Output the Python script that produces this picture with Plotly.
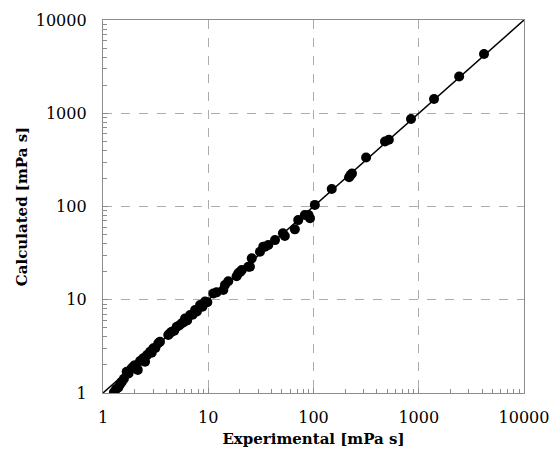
import plotly.graph_objects as go

# Experimental vs calculated viscosity [mPa s]
experimental = [1.27, 1.33, 1.40, 1.46, 1.51, 1.58, 1.68, 1.75, 1.87, 1.95, 2.01, 2.14, 2.25, 2.41, 2.51,
                2.62, 2.80, 2.90, 3.01, 3.15, 3.35, 3.48, 4.17, 4.30, 4.49, 4.75, 5.02, 5.30, 5.60, 5.80,
                6.02, 6.30, 6.72, 7.10, 7.50, 7.80, 8.36, 8.80, 9.32, 9.80,
                11.2, 12.0, 13.9, 14.4, 15.5, 18.6, 19.3, 20.1, 20.8, 24.0, 24.9, 25.9, 31.0, 33.3, 34.6,
                37.2, 43.1, 51.2, 53.4, 66.5, 71.6, 82.7, 89.8, 92.6, 103,
                149, 218, 225, 232, 316, 478, 520, 844, 1397, 2420, 4170]
calculated = [1.02, 1.10, 1.15, 1.25, 1.32, 1.42, 1.69, 1.62, 1.84, 1.92, 1.99, 1.77, 2.20, 2.36, 2.17,
              2.55, 2.77, 2.70, 3.01, 3.05, 3.41, 3.55, 4.18, 4.35, 4.54, 4.65, 5.13, 5.30, 5.59, 5.70,
              6.30, 6.00, 6.85, 6.90, 7.76, 7.50, 8.78, 8.40, 9.55, 9.40,
              11.7, 12.0, 12.7, 14.4, 15.8, 17.9, 19.2, 19.9, 20.8, 22.6, 22.6, 27.8, 32.7, 37.1, 37.1,
              38.6, 43.6, 51.5, 48.3, 56.9, 71.5, 81.0, 81.0, 74.8, 104,
              154, 206, 217, 226, 336, 497, 520, 867, 1422, 2480, 4318]

parity = [1, 10000]
tick_vals = [1, 10, 100, 1000, 10000]
tick_text = ["1", "10", "100", "1000", "10000"]

SERIF = "DejaVu Serif"

fig = go.Figure()
fig.add_trace(go.Scatter(x=parity, y=parity, mode="lines",
                         line=dict(color="black", width=1.5), hoverinfo="skip"))
fig.add_trace(go.Scatter(x=experimental, y=calculated, mode="markers",
                         marker=dict(color="black", size=10, line=dict(width=0))))

axis_common = dict(
    type="log", range=[0, 4], tickvals=tick_vals, ticktext=tick_text,
    showline=True, linecolor="#8c8c8c", linewidth=1.3, mirror=True,
    showgrid=True, gridcolor="#ababab", griddash="dash", gridwidth=1,
    ticks="inside", ticklen=5, tickcolor="#8c8c8c",
    minor=dict(ticks="inside", ticklen=4, tickcolor="#8c8c8c", showgrid=False, dtick="D1"),
    zeroline=False, automargin=False,
    tickfont=dict(family=SERIF, size=16, color="black"),
)

fig.update_xaxes(**axis_common, ticklabelstandoff=10,
                 title=dict(text="<b>Experimental [mPa s]</b>", standoff=7,
                            font=dict(family=SERIF, size=15, color="black")))
fig.update_yaxes(**axis_common, ticklabelstandoff=12,
                 title=dict(text="<b>Calculated [mPa s]</b>", standoff=4,
                            font=dict(family=SERIF, size=15, color="black")))

fig.update_layout(
    width=550, height=466,
    margin=dict(l=103, r=26, t=20, b=73),
    paper_bgcolor="white", plot_bgcolor="white",
    font=dict(family=SERIF),
    showlegend=False,
)

fig.write_html("out.html")
